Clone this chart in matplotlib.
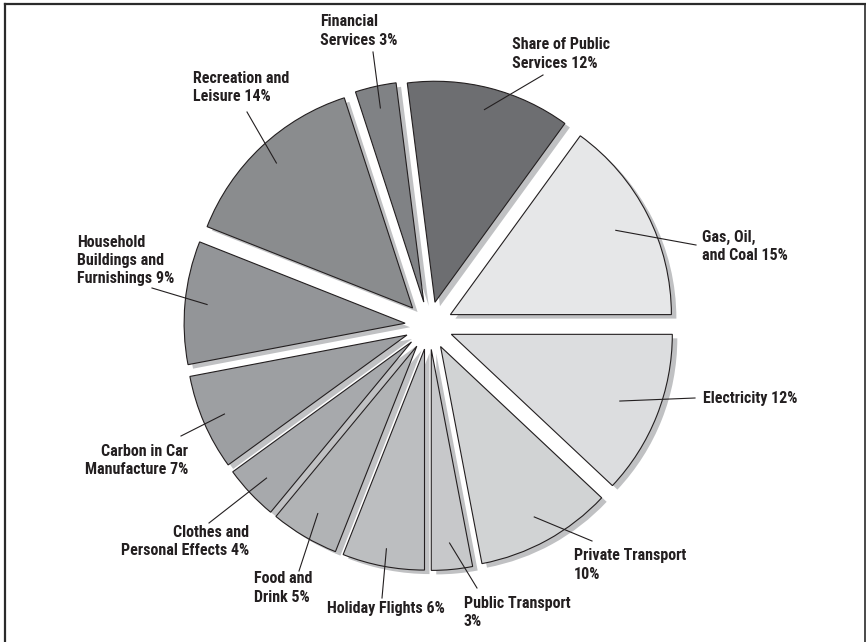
import numpy as np
import matplotlib
matplotlib.use("Agg")
import matplotlib.pyplot as plt
from matplotlib.patches import Wedge
from matplotlib.lines import Line2D
from matplotlib import font_manager as fm

# ---- data ----
labels = ["Gas, Oil,\nand Coal 15%", "Share of Public\nServices 12%", "Financial\nServices 3%",
          "Recreation and\nLeisure 14%", "Household\nBuildings and\nFurnishings 9%",
          "Carbon in Car\nManufacture 7%", "Clothes and\nPersonal Effects 4%",
          "Food and\nDrink 5%", "Holiday Flights 6%", "Public Transport\n3%",
          "Private Transport\n10%", "Electricity 12%"]
shares = [15, 12, 3, 14, 9, 7, 4, 5, 6, 3, 10, 12]
colors = ["#e6e7e8", "#6d6e71", "#808285", "#8a8c8e", "#939598", "#9d9fa2",
          "#a7a9ac", "#b1b3b5", "#bcbec0", "#c7c8ca", "#d1d3d4", "#dcdddf"]

# ---- layout (pixel coords, y measured from top) ----
W, H = 866, 642
cx, cy = 429, 325.5
R = 221
explode_px = 24
shadow_dx, shadow_dy = 5, 4
label_pos = [(702, 246.5, "left"), (512, 54, "left"), (320, 31, "left"),
             (193, 87.5, "left"), (77, 260.5, "left"), (188, 460.5, "right"),
             (249, 541.5, "right"), (254, 588, "left"), (327, 608, "left"),
             (464, 612.5, "left"), (574, 565, "left"), (703, 398, "left")]
leader_end = [(696, 245), (543, 75), (373, 52), (247, 112), (152, 288), (181, 436),
              (209, 523), (299, 571), (382, 598), (477, 588), (592, 541), (695, 398)]
leader_frac = [0.84, 0.9, 0.9, 0.9, 0.9, 0.9, 0.9, 0.88, 0.92, 0.88, 0.88, 0.82]

TXT = "#231f20"

# choose a narrow bold font
fam, stretch = "DejaVu Sans", "condensed"
for name in ["Liberation Sans Narrow", "Roboto Condensed", "Open Sans Condensed"]:
    try:
        fm.findfont(fm.FontProperties(family=name), fallback_to_default=False)
        fam, stretch = name, "normal"
        break
    except Exception:
        pass
plt.rcParams['font.family'] = [fam, 'DejaVu Sans']

fig = plt.figure(figsize=(W / 100, H / 100), dpi=100)
ax = fig.add_axes([0, 0, 1, 1])

# fit font size to the reference width of "Share of Public" (~98 px)
renderer = fig.canvas.get_renderer()
probe = fig.text(0, 0, "Share of Public", fontsize=11, fontweight="bold",
                 fontstretch=stretch, family=[fam, 'DejaVu Sans'])
pw = probe.get_window_extent(renderer).width
probe2 = fig.text(0, 0, "A\nA", fontsize=11, fontweight="bold",
                  fontstretch=stretch, family=[fam, 'DejaVu Sans'], linespacing=1.0)
ph = probe2.get_window_extent(renderer).height
probe.remove(); probe2.remove()
fs = float(np.clip(11 * 98 / pw, 9, 12))
line_pitch_1 = (ph / 2.0) * fs / 11  # approx pitch at linespacing 1
ls = 19.0 / max(line_pitch_1, 1)

wedges, _ = ax.pie(shares, colors=colors, startangle=0, counterclock=True,
                   radius=R, center=(cx, H - cy),
                   wedgeprops=dict(edgecolor=TXT, linewidth=0.8))
for w in wedges:
    mid = np.deg2rad((w.theta1 + w.theta2) / 2)
    c0 = w.center
    w.set_center((c0[0] + explode_px * np.cos(mid), c0[1] + explode_px * np.sin(mid)))
    w.set_zorder(2)
    s = Wedge((w.center[0] + shadow_dx, w.center[1] - shadow_dy), w.r,
              w.theta1, w.theta2, facecolor="#c0c1c3", edgecolor="none", zorder=1)
    ax.add_patch(s)

ax.set_xlim(0, W)
ax.set_ylim(0, H)
ax.set_aspect('auto')
ax.axis('off')

for w, lab, (tx, ty, ha), (ex, ey), fr in zip(wedges, labels, label_pos, leader_end, leader_frac):
    mid = np.deg2rad((w.theta1 + w.theta2) / 2)
    ix = w.center[0] + fr * w.r * np.cos(mid)
    iy = w.center[1] + fr * w.r * np.sin(mid)
    ax.add_line(Line2D([ix, ex], [iy, H - ey], color=TXT, lw=0.8, zorder=3))
    ax.text(tx, H - ty, lab, ha=ha, va="center", fontsize=fs, fontweight="bold",
            fontstretch=stretch, color=TXT, linespacing=ls, multialignment=ha, zorder=4)

# frame
ax.add_line(Line2D([5, 5], [0, H - 4], color="#2b2b2b", lw=1.6, zorder=5))
ax.add_line(Line2D([5, W], [H - 4, H - 4], color="#2b2b2b", lw=1.6, zorder=5))
ax.add_line(Line2D([W - 1.5, W - 1.5], [0, H - 4], color="#2b2b2b", lw=1.2, zorder=5))

fig.savefig("out.png", dpi=100)
